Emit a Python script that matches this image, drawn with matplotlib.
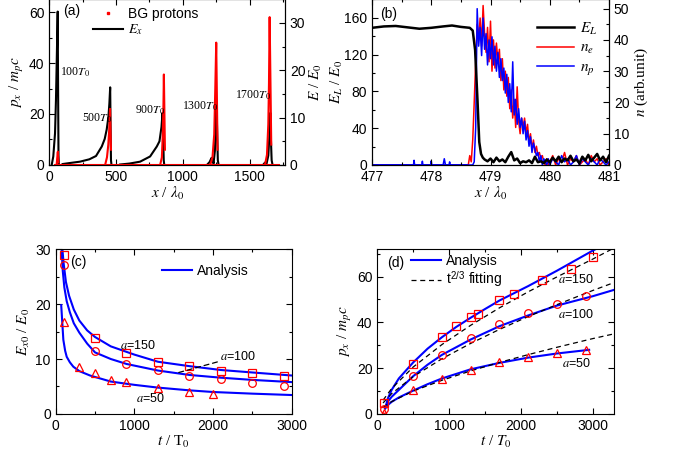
import numpy as np
import matplotlib.pyplot as plt
from matplotlib.lines import Line2D
from matplotlib.ticker import MultipleLocator

plt.rcParams['font.family'] = ['Liberation Sans', 'DejaVu Sans']
plt.rcParams['mathtext.fontset'] = 'stix'
plt.rcParams['font.size'] = 10
SERIF = ['Liberation Serif', 'DejaVu Serif']

# ---------------- (a) snapshots: E_x (right axis) and BG proton p_x (left axis)
snap_names = ['100', '500', '900', '1300', '1700']
snap_lab_x = [80, 246, 644, 996, 1393]
snap_lab_y = [36.5, 18.4, 21.6, 23.1, 27.5]
ex_x = [[18, 30, 43, 50, 55, 60, 63, 66, 69, 72],
        [100, 150, 230, 300, 350, 393, 415, 430, 443, 450, 456, 459, 462, 466],
        [530, 600, 680, 755, 805, 825, 840, 848, 853, 857, 861],
        [1180, 1200, 1215, 1222, 1230, 1240, 1247, 1252, 1257, 1262, 1268],
        [1600, 1615, 1625, 1640, 1648, 1655, 1660, 1665, 1672]]
ex_v = [[0, 1.8, 6.7, 13.7, 20.8, 28, 32.4, 16, 2, 0],
        [0.2, 0.4, 0.7, 1.2, 1.9, 3.9, 5.5, 7.5, 10.2, 13, 16.4, 8, 1, 0],
        [0.1, 0.3, 0.7, 1.8, 3.9, 5, 8, 11, 6, 1, 0],
        [0, 0.6, 1.5, 1.2, 0.3, 3, 9, 13, 7, 1, 0],
        [0, 0.5, 0, 2, 6, 11, 5, 1, 0]]
px_x = [[55, 60, 64, 68],
        [418, 432, 442, 449, 455, 462],
        [830, 843, 850, 855, 858, 866],
        [1205, 1222, 1235, 1243, 1250, 1260],
        [1615, 1630, 1640, 1645, 1650, 1662]]
px_v = [[0, 3, 5.2, 1],
        [0, 3, 8, 14, 22, 6],
        [0, 3, 12, 24, 35.5, 6],
        [0, 3, 12, 30, 48, 6],
        [0, 4, 16, 32, 58, 8]]
px_base_x = [40, 1720]
px_base_v = [0, 0]

# ---------------- (b) laser field and densities near the front
el_x = [477.0, 477.2, 477.4, 477.6, 477.8, 478.0, 478.2, 478.35, 478.5, 478.65,
        478.7, 478.74, 478.78, 478.81, 478.84, 478.87,
        478.90, 478.95, 479.00, 479.05, 479.10, 479.15, 479.20, 479.25, 479.30, 479.35,
        479.40, 479.45, 479.50, 479.55, 479.60, 479.65, 479.70, 479.75, 479.80, 479.85,
        479.90, 479.95, 480.00, 480.05, 480.10, 480.15, 480.20, 480.25, 480.30, 480.35,
        480.40, 480.45, 480.50, 480.55, 480.60, 480.65, 480.70, 480.75, 480.80, 480.85,
        480.90, 480.95, 481.00]
el_v = [149, 150.5, 151, 149.5, 148, 149, 150.5, 151.5, 150, 149,
        146, 125, 71, 25, 12, 8,
        6, 4, 7, 3, 8, 4, 6, 3, 9, 14,
        5, 7, 2, 4, 3, 5, 2, 9, 3, 4,
        2, 6, 3, 8, 4, 9, 3, 7, 5, 10,
        4, 6, 2, 9, 5, 11, 4, 8, 12, 5,
        9, 3, 10]
n_x = [477.0,
       478.600, 478.625, 478.650, 478.675, 478.700, 478.725, 478.750, 478.775,
       478.800, 478.825, 478.850, 478.875, 478.900, 478.925, 478.950, 478.975,
       479.000, 479.025, 479.050, 479.075, 479.100, 479.125, 479.150, 479.175,
       479.200, 479.225, 479.250, 479.275, 479.300, 479.325, 479.350, 479.375,
       479.400, 479.425, 479.450, 479.475, 479.500, 479.525, 479.550, 479.575,
       479.600, 479.625, 479.650, 479.675, 479.700, 479.725, 479.750, 479.775,
       479.800, 479.825, 479.850, 479.875, 479.900, 479.925, 479.950, 479.975,
       480.000,
       480.05, 480.10, 480.15, 480.20, 480.25, 480.30, 480.35, 480.40, 480.45, 480.50,
       480.55, 480.60, 480.65, 480.70, 480.75, 480.80, 480.85, 480.90, 480.95, 481.00]
ne_v = [0,
        0, 0, 3, 1, 8, 20, 33, 45, 40, 47, 38, 51, 42, 36, 44, 33,
        46, 30, 40, 31, 39, 33, 37, 27, 34, 24, 30, 22, 28, 18, 24, 15,
        21, 12, 25, 14, 10, 15, 12, 15, 10, 13, 7, 10, 5, 8, 4, 6,
        3, 4, 2, 3, 1, 0, 2, 0,
        1,
        3, 0, 2, 1, 4, 0, 2, 1, 3, 0, 1, 2, 0, 3, 1, 2, 0, 1, 2, 0]
np_v = [0,
        0, 0, 0, 0, 0, 1, 12, 50, 38, 44, 35, 47, 37, 42, 32, 40,
        34, 41, 32, 38, 30, 36, 28, 34, 27, 31, 23, 29, 20, 26, 17, 33,
        16, 21, 13, 18, 12, 15, 10, 14, 8, 11, 6, 9, 4, 7, 5, 3,
        4, 1, 3, 0, 2, 1, 0, 2,
        0,
        2, 1, 0, 3, 1, 2, 0, 1, 3, 0, 2, 1, 0, 2, 1, 0, 2, 1, 0, 1]
np_spk_x = [477.0, 477.70, 477.71, 477.72, 477.84, 477.85, 477.86, 477.99, 478.00,
            478.01, 478.20, 478.22, 478.24, 478.30, 478.31, 478.32, 478.60]
np_spk_v = [0, 0, 1.5, 0, 0, 1.2, 0, 0, 1.3, 0, 0, 2, 0, 0, 1, 0, 0]

# ---------------- (c) accelerating field vs time
c_t150 = [85, 100, 130, 170, 230, 300, 400, 500, 700, 1000, 1300, 1700, 2100, 2500, 3000]
c_a150 = [30, 27.5, 24, 21.5, 19, 17, 15.2, 14, 12.3, 10.8, 9.5, 8.7, 8.0, 7.55, 7.0]
c_t100 = [75, 90, 110, 140, 180, 230, 300, 400, 500, 700, 900, 1300, 1700, 2100, 2500, 3000]
c_a100 = [30, 26, 23, 20.5, 18.5, 16.5, 14.8, 12.8, 11.2, 10.0, 9.1, 7.9, 7.1, 6.6, 6.2, 5.8]
c_t50 = [70, 80, 97, 120, 140, 180, 224, 300, 436, 700, 1000, 1300, 1700, 2000, 2500, 3000]
c_a50 = [19.8, 17.5, 13.5, 11.5, 10.4, 9.4, 8.6, 7.8, 7.0, 5.9, 5.3, 4.8, 4.3, 4.0, 3.7, 3.45]
c_sq_t = [100, 500, 900, 1300, 1700, 2100, 2500, 2900]
c_sq_v = [29, 13.9, 11.1, 9.4, 8.8, 7.8, 7.4, 6.95]
c_ci_t = [100, 500, 900, 1300, 1700, 2100, 2500, 2900]
c_ci_v = [27.1, 11.4, 9.05, 8.05, 6.95, 6.4, 5.6, 5.0]
c_tr_t = [100, 300, 500, 700, 900, 1300, 1700, 2000]
c_tr_v = [16.8, 8.6, 7.4, 6.15, 5.8, 4.7, 4.05, 3.7]

# ---------------- (d) proton momentum vs time
d_t150 = [110, 150, 200, 300, 500, 700, 900, 1100, 1300, 1500, 1700, 2100, 2500, 3000, 3300]
d_a150 = [2.5, 7, 10.5, 15.5, 22.5, 28.5, 33.5, 38, 42, 45.8, 49.5, 55.8, 62.5, 71.3, 76]
d_t100 = [110, 150, 200, 300, 500, 700, 900, 1300, 1700, 2100, 2500, 3000, 3300]
d_a100 = [2.5, 5.5, 7.5, 10.5, 16.5, 21.5, 25.8, 32.5, 38.3, 43, 47.3, 51.4, 54.2]
d_t50 = [110, 150, 200, 300, 500, 700, 900, 1300, 1700, 2100, 2500, 2950]
d_a50 = [2.5, 4, 5.3, 7.2, 10.2, 13, 15.5, 19.5, 22.3, 24.6, 26.4, 28]
d_fit_t = [80, 200, 500, 900, 1300, 1700, 2100, 2500, 3000, 3300]
d_fit150 = [6.0, 11.1, 20.5, 30.3, 38.7, 46.3, 53.3, 59.8, 67.6, 72.5]
d_fit100 = [4.8, 8.9, 16.3, 24.1, 30.8, 36.9, 42.5, 47.7, 53.9, 57.4]
d_fit50 = [2.9, 5.4, 10.0, 14.7, 18.8, 22.5, 25.9, 29.1, 32.9, 35.0]
d_sq_t = [100, 500, 900, 1100, 1300, 1400, 1700, 1900, 2300, 2700, 3000]
d_sq_v = [5.0, 22, 33.6, 38.2, 42.2, 43.6, 49.6, 52.4, 58.3, 63.2, 68.3]
d_ci_t = [100, 500, 900, 1300, 1700, 2100, 2500, 2900]
d_ci_v = [2.0, 16.4, 25.8, 33.2, 39.2, 44.0, 48.2, 51.7]
d_tr_t = [100, 500, 900, 1300, 1700, 2100, 2500, 2900]
d_tr_v = [0.6, 10.3, 15.4, 19.4, 22.7, 24.9, 26.6, 28.1]


def style(ax, top=True, right=True):
    ax.tick_params(which='both', direction='in', top=top, right=right, width=0.8,
                   labelsize=10, colors='black')
    ax.tick_params(which='major', length=4)
    ax.tick_params(which='minor', length=2)
    for s in ax.spines.values():
        s.set_linewidth(0.8)


fig = plt.figure(figsize=(6.76, 4.53), dpi=100)
ax_a = fig.add_axes([0.0729, 0.6358, 0.3487, 0.3658])
ax_b = fig.add_axes([0.5503, 0.6358, 0.3506, 0.3658])
ax_c = fig.add_axes([0.0824, 0.0861, 0.3491, 0.3642])
ax_d = fig.add_axes([0.5581, 0.0861, 0.3506, 0.3642])

LBL = 11

# ---- (a)
ax_a2 = ax_a.twinx()
ax_a.set_zorder(ax_a2.get_zorder() + 1)
ax_a.patch.set_visible(False)
for xs, vs in zip(ex_x, ex_v):
    ax_a2.plot(xs, vs, color='black', lw=1.5)
ax_a.plot(px_base_x, px_base_v, color='red', lw=1.5)
for xs, vs in zip(px_x, px_v):
    ax_a.plot(xs, vs, color='red', lw=1.5)
for name, tx, ty in zip(snap_names, snap_lab_x, snap_lab_y):
    ax_a.text(tx, ty, name + r'$T_0$', family=SERIF, fontsize=8.5, ha='left', va='center')
ax_a.set_xlim(0, 1765)
ax_a.set_ylim(0, 65)
ax_a2.set_ylim(0, 35)
ax_a.xaxis.set_major_locator(MultipleLocator(500))
ax_a.xaxis.set_minor_locator(MultipleLocator(250))
ax_a.yaxis.set_major_locator(MultipleLocator(20))
ax_a.yaxis.set_minor_locator(MultipleLocator(10))
ax_a2.yaxis.set_major_locator(MultipleLocator(10))
ax_a2.yaxis.set_minor_locator(MultipleLocator(5))
style(ax_a, right=False)
style(ax_a2, top=False)
ax_a.set_xlabel(r'$x$ / $\lambda_0$', family=SERIF, fontsize=LBL, labelpad=1)
ax_a.set_ylabel(r'$p_x$ / $m_pc$', family=SERIF, fontsize=LBL, labelpad=2)
ax_a2.set_ylabel(r'$E$ / $E_0$', family=SERIF, fontsize=LBL, labelpad=2)
ax_a.text(0.058, 0.93, '(a)', transform=ax_a.transAxes, fontsize=10, va='center')
h_a = [Line2D([], [], color='red', marker='s', ms=1.8, ls='none'),
       Line2D([], [], color='black', lw=1.5)]
ax_a.legend(h_a, ['BG protons', r'$E_x$'], loc='center left', bbox_to_anchor=(0.185, 0.862),
            frameon=False, borderpad=0, borderaxespad=0, handlelength=2.2,
            handletextpad=0.35, labelspacing=0.12, fontsize=10)

# ---- (b)
ax_b2 = ax_b.twinx()
ax_b.set_zorder(ax_b2.get_zorder() + 1)
ax_b.patch.set_visible(False)
ax_b2.plot(n_x, ne_v, color='red', lw=1.1)
ax_b2.plot(n_x, np_v, color='blue', lw=1.1)
ax_b2.plot(np_spk_x, np_spk_v, color='blue', lw=1.1)
ax_b.plot(el_x, el_v, color='black', lw=1.8)
ax_b.set_xlim(477, 481)
ax_b.set_ylim(0, 180)
ax_b2.set_ylim(0, 53)
ax_b.xaxis.set_major_locator(MultipleLocator(1))
ax_b.xaxis.set_minor_locator(MultipleLocator(0.5))
ax_b.yaxis.set_major_locator(MultipleLocator(40))
ax_b.yaxis.set_minor_locator(MultipleLocator(20))
ax_b2.yaxis.set_major_locator(MultipleLocator(10))
ax_b2.yaxis.set_minor_locator(MultipleLocator(5))
style(ax_b, right=False)
style(ax_b2, top=False)
ax_b.set_xlabel(r'$x$ / $\lambda_0$', family=SERIF, fontsize=LBL, labelpad=1)
ax_b.set_ylabel(r'$E_L$ / $E_0$', family=SERIF, fontsize=LBL, labelpad=-1)
ax_b2.set_ylabel(r'$n$ (arb.unit)', family=SERIF, fontsize=LBL, labelpad=2)
ax_b.text(0.034, 0.912, '(b)', transform=ax_b.transAxes, fontsize=10, va='center')
h_b = [Line2D([], [], color='black', lw=1.8), Line2D([], [], color='red', lw=1.1),
       Line2D([], [], color='blue', lw=1.1)]
ax_b.legend(h_b, [r'$E_L$', r'$n_e$', r'$n_p$'], loc='center left', bbox_to_anchor=(0.696, 0.70),
            frameon=False, borderpad=0, borderaxespad=0, handlelength=2.4,
            handletextpad=0.4, labelspacing=0.3, prop={'family': SERIF, 'size': 11})

# ---- (c)
for ts, vs in [(c_t150, c_a150), (c_t100, c_a100), (c_t50, c_a50)]:
    ax_c.plot(ts, vs, color='blue', lw=1.5)
mk = dict(color='red', mfc='none', ls='none', mew=0.9)
ax_c.plot(c_sq_t, c_sq_v, marker='s', ms=5.5, **mk)
ax_c.plot(c_ci_t, c_ci_v, marker='o', ms=5.5, **mk)
ax_c.plot(c_tr_t, c_tr_v, marker='^', ms=6, **mk)
ax_c.text(1045, 12.5, r'$a$=150', fontsize=9, ha='center', va='center')
ax_c.text(1200, 2.9, r'$a$=50', fontsize=9, ha='center', va='center')
ax_c.annotate(r'$a$=100', xy=(1540, 7.45), xytext=(2090, 10.5), fontsize=9,
              ha='left', va='center',
              arrowprops=dict(arrowstyle='-', ls=(0, (4, 3)), color='black', lw=0.9,
                              shrinkA=0, shrinkB=0))
ax_c.set_xlim(0, 3000)
ax_c.set_ylim(0, 30)
ax_c.xaxis.set_major_locator(MultipleLocator(1000))
ax_c.xaxis.set_minor_locator(MultipleLocator(500))
ax_c.yaxis.set_major_locator(MultipleLocator(10))
ax_c.yaxis.set_minor_locator(MultipleLocator(5))
style(ax_c)
ax_c.set_xlabel(r'$t$ / T$_0$', family=SERIF, fontsize=LBL, labelpad=1)
ax_c.set_ylabel(r'$E_{x0}$ / $E_0$', family=SERIF, fontsize=LBL, labelpad=2)
ax_c.text(0.061, 0.921, '(c)', transform=ax_c.transAxes, fontsize=10, va='center')
ax_c.legend([Line2D([], [], color='blue', lw=1.5)], ['Analysis'], loc='center left',
            bbox_to_anchor=(0.45, 0.867), frameon=False, borderpad=0, borderaxespad=0,
            handlelength=2.2, handletextpad=0.35, fontsize=10)

# ---- (d)
for ts, vs in [(d_t150, d_a150), (d_t100, d_a100), (d_t50, d_a50)]:
    ax_d.plot(ts, vs, color='blue', lw=1.5)
for vs in [d_fit150, d_fit100, d_fit50]:
    ax_d.plot(d_fit_t, vs, color='black', lw=0.9, ls=(0, (4, 3)))
ax_d.plot(d_sq_t, d_sq_v, marker='s', ms=5.5, **mk)
ax_d.plot(d_ci_t, d_ci_v, marker='o', ms=5.5, **mk)
ax_d.plot(d_tr_t, d_tr_v, marker='^', ms=6, **mk)
ax_d.text(2520, 58.5, r'$a$=150', fontsize=9, ha='left', va='center')
ax_d.text(2520, 43.4, r'$a$=100', fontsize=9, ha='left', va='center')
ax_d.text(2570, 22.2, r'$a$=50', fontsize=9, ha='left', va='center')
ax_d.set_xlim(0, 3300)
ax_d.set_ylim(0, 72)
ax_d.xaxis.set_major_locator(MultipleLocator(1000))
ax_d.xaxis.set_minor_locator(MultipleLocator(500))
ax_d.yaxis.set_major_locator(MultipleLocator(20))
ax_d.yaxis.set_minor_locator(MultipleLocator(10))
style(ax_d)
ax_d.set_xlabel(r'$t$ / $T_0$', family=SERIF, fontsize=LBL, labelpad=1)
ax_d.set_ylabel(r'$p_x$ / $m_pc$', family=SERIF, fontsize=LBL, labelpad=2)
ax_d.text(0.041, 0.915, '(d)', transform=ax_d.transAxes, fontsize=10, va='center')
ax_d.legend([Line2D([], [], color='blue', lw=1.5),
             Line2D([], [], color='black', lw=0.9, ls=(0, (4, 3)))],
            ['Analysis', r't$^{\mathregular{2/3}}$ fitting'], loc='center left',
            bbox_to_anchor=(0.142, 0.861), frameon=False, borderpad=0, borderaxespad=0,
            handlelength=2.2, handletextpad=0.35, labelspacing=0.15, fontsize=10)

fig.savefig('out.png', dpi=100)
